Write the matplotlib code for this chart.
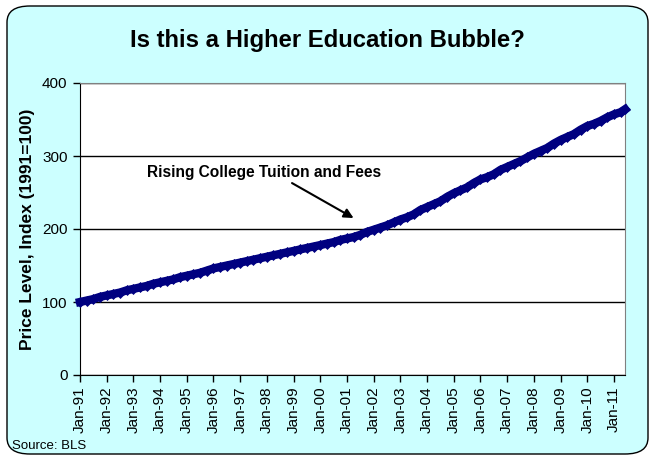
import numpy as np
import pandas as pd
import matplotlib
matplotlib.use("Agg")
import matplotlib.pyplot as plt
import matplotlib.dates as mdates
from matplotlib.patches import FancyBboxPatch

plt.rcParams["font.family"] = ["Liberation Sans", "DejaVu Sans"]

# quarterly readings (Jan, Apr, Jul, Oct) of the tuition index, 1991=100
dates = list(pd.date_range("1991-01-01", "2011-04-01", freq="QS")) + [pd.Timestamp("2011-06-01")]
index_values = [
    100, 102, 104, 107,   # 1991
    109, 111, 113, 116,   # 1992
    118, 120, 122, 125,   # 1993
    127, 129, 131, 134,   # 1994
    136, 138, 140, 143,   # 1995
    146, 148, 150, 152,   # 1996
    154, 156, 158, 160,   # 1997
    162, 164, 166, 168,   # 1998
    170, 172, 174, 176,   # 1999
    178, 180, 182, 185,   # 2000
    187, 189, 192, 196,   # 2001
    199, 202, 205, 209,   # 2002
    213, 216, 220, 226,   # 2003
    230, 234, 238, 244,   # 2004
    249, 253, 257, 263,   # 2005
    268, 271, 275, 281,   # 2006
    285, 289, 293, 298,   # 2007
    303, 307, 311, 317,   # 2008
    322, 326, 330, 336,   # 2009
    341, 344, 348, 353,   # 2010
    357, 360, 364,        # 2011
]
y_ticks = [0, 100, 200, 300, 400]
tick_years = pd.date_range("1991-01-01", "2011-01-01", freq="YS")

fig = plt.figure(figsize=(6.55, 4.62), dpi=100, facecolor="white")

# rounded cyan chart-area box, kept behind the axes
box = FancyBboxPatch((7 / 655, 8 / 462), 641 / 655, 448 / 462,
                     boxstyle="round,pad=0,rounding_size=0.035",
                     transform=fig.transFigure, facecolor="#CCFFFF",
                     edgecolor="black", linewidth=1.0, zorder=-10)
fig.patches.append(box)

ax = fig.add_axes([80 / 655, 1 - 375 / 462, 545 / 655, 292 / 462])
ax.set_zorder(1)
ax.set_facecolor("white")

ax.plot(dates, index_values, color="#000080", linewidth=6,
        marker="D", markersize=5.5, markeredgewidth=0.5, zorder=3, clip_on=False)

ax.set_ylim(0, 400)
ax.set_yticks(y_ticks)
ax.set_xlim(pd.Timestamp("1991-01-01"), pd.Timestamp("2011-06-01"))
ax.set_xticks(tick_years)
ax.xaxis.set_major_formatter(mdates.DateFormatter("%b-%y"))
plt.setp(ax.get_xticklabels(), rotation=90)

ax.grid(axis="y", color="black", linewidth=1.0)
ax.set_axisbelow(True)
ax.tick_params(axis="both", direction="out", length=5, width=1, labelsize=11, colors="black")
ax.tick_params(axis="x", pad=3)
ax.tick_params(axis="y", pad=4)

for side in ["top", "right"]:
    ax.spines[side].set_color("#808080")
for side in ["left", "bottom"]:
    ax.spines[side].set_color("black")

ax.set_ylabel("Price Level, Index (1991=100)", fontsize=12.5, fontweight="bold",
              va="center")
ax.yaxis.set_label_coords(-(80 - 28) / 545, 0.5)

fig.text(0.5, 1 - 40 / 462, "Is this a Higher Education Bubble?", ha="center", va="center",
         fontsize=17.2, fontweight="bold")

ax.annotate("Rising College Tuition and Fees",
            xy=(pd.Timestamp("2001-04-01"), 215), xytext=(pd.Timestamp("1993-07-01"), 277),
            ha="left", va="center", fontsize=11.2, fontweight="bold",
            arrowprops=dict(arrowstyle="-|>", color="black", lw=1.5, mutation_scale=14,
                            shrinkA=0, shrinkB=0, relpos=(0.6, 0.0)))

fig.text(12 / 655, 1 - 446 / 462, "Source: BLS", ha="left", va="center", fontsize=9.5)

fig.savefig("out.png", dpi=100, facecolor="white")
